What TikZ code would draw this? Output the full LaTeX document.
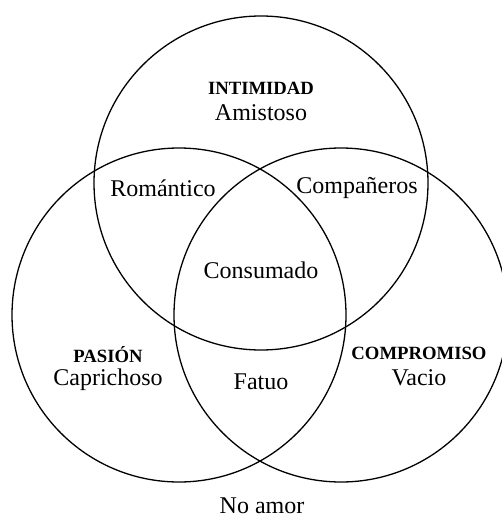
\documentclass[tikz,border=0pt]{standalone}
\usepackage{fontspec}
\setmainfont{Liberation Serif}
\usetikzlibrary{positioning}

\begin{document}
\begin{tikzpicture}[x=1pt,y=-1pt,
        set/.style={circle,draw,line width=1.3pt,minimum size=334pt,inner sep=0pt},
        head/.style={font=\fontsize{18.7}{20}\selectfont\bfseries,inner sep=0pt},
        kind/.style={font=\fontsize{24}{26}\selectfont,inner sep=0pt}]
    \useasboundingbox (0,0) rectangle (502,519);
    % the three components
    \node[set] (intim) at (261,183) {};
    \node[set] (pasion) at (179,315) {};
    \node[set] (comp) at (341,315) {};
    % single components
    \node[head] (intimidad) at (261,88) {INTIMIDAD};
    \node[kind,below=25pt of intimidad.center,anchor=center] (amistoso) {Amistoso};
    \node[head] (pas) at (108,355) {PASIÓN};
    \node[kind,below=25pt of pas.center,anchor=center] (caprichoso) {Caprichoso};
    \node[head] (compromiso) at (419,353) {COMPROMISO};
    \node[kind,below=25pt of compromiso.center,anchor=center] (vacio) {Vacio};
    % overlaps
    \node[kind] (romantico) at (163,188) {Romántico};
    \node[kind] (companeros) at (357,188) {Compañeros};
    \node[kind] (consumado) at (261,270) {Consumado};
    \node[kind] (fatuo) at (261,382) {Fatuo};
    \node[kind] (noamor) at (262,506) {No amor};
\end{tikzpicture}
\end{document}
